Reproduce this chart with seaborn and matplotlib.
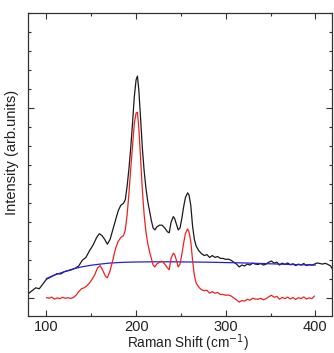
import matplotlib
matplotlib.use("Agg")
import matplotlib.pyplot as plt
import seaborn as sns
import pandas as pd
from matplotlib.ticker import MultipleLocator

# Raw spectrum (black)
raw_x = [80, 84, 88, 92, 96, 100, 104, 108, 112, 116, 120, 124, 128, 132, 136, 140, 144, 148, 152, 156,
         159, 162, 165, 168, 171, 174, 177, 180, 183, 186, 188, 190, 192, 194, 196, 198, 200, 201.5, 203,
         205, 207, 209, 211, 213, 215, 217, 219, 221, 223, 226, 229, 232, 235, 237, 239, 241.5, 243, 245,
         247, 249, 251, 253, 255, 257.5, 259, 261, 263, 265, 267, 270, 273, 276, 279, 282, 285, 288, 291,
         294, 297, 300, 303, 306, 309, 312, 315, 318, 321, 324, 327, 330, 333, 336, 339, 342, 345, 348,
         351, 354, 357, 360, 363, 366, 369, 372, 375, 378, 381, 384, 387, 390, 393, 396, 399, 402, 405,
         408, 411, 414, 417, 420]
raw_y = [0.025, 0.04, 0.055, 0.05, 0.075, 0.10, 0.11, 0.12, 0.13, 0.128, 0.14, 0.145, 0.15, 0.158, 0.17,
         0.20, 0.215, 0.25, 0.28, 0.32, 0.34, 0.33, 0.31, 0.285, 0.31, 0.36, 0.41, 0.46, 0.49, 0.50, 0.52,
         0.59, 0.68, 0.79, 0.92, 1.06, 1.15, 1.17, 1.10, 0.95, 0.79, 0.67, 0.58, 0.51, 0.46, 0.41, 0.37,
         0.36, 0.375, 0.385, 0.385, 0.37, 0.35, 0.345, 0.40, 0.43, 0.42, 0.39, 0.36, 0.37, 0.42, 0.48,
         0.53, 0.555, 0.545, 0.49, 0.38, 0.31, 0.275, 0.25, 0.235, 0.225, 0.23, 0.215, 0.225, 0.215, 0.22,
         0.21, 0.21, 0.205, 0.206, 0.20, 0.19, 0.18, 0.165, 0.175, 0.17, 0.18, 0.175, 0.185, 0.18, 0.178,
         0.183, 0.175, 0.18, 0.19, 0.196, 0.185, 0.19, 0.175, 0.185, 0.178, 0.186, 0.176, 0.182, 0.172,
         0.18, 0.175, 0.183, 0.172, 0.178, 0.174, 0.18, 0.186, 0.183, 0.18, 0.184, 0.178, 0.17, 0.145]

# Baseline (blue)
base_x = [100, 110, 120, 130, 140, 150, 160, 170, 180, 190, 200, 220, 240, 260, 280, 300, 320, 340, 360,
          380, 400]
base_y = [0.104, 0.124, 0.140, 0.155, 0.166, 0.174, 0.180, 0.185, 0.188, 0.190, 0.191, 0.192, 0.192,
          0.191, 0.190, 0.188, 0.186, 0.183, 0.180, 0.177, 0.175]

# Baseline-corrected spectrum (red)
corr_x = [100, 103, 106, 109, 112, 115, 118, 121, 124, 127, 130, 133, 136, 139, 142, 145, 148, 151, 154,
          157, 160, 163, 166, 168, 171, 174, 177, 180, 183, 186, 188, 190, 192, 194, 196, 198, 200, 201.5,
          203, 205, 207, 209, 211, 213, 215, 217, 219, 221, 223, 226, 229, 232, 235, 237, 239, 241.5, 243,
          245, 247, 249, 251, 253, 255, 257.5, 259, 261, 263, 265, 267, 270, 273, 276, 279, 282, 285, 288,
          291, 294, 297, 300, 303, 306, 309, 312, 315, 318, 321, 324, 327, 330, 333, 336, 339, 342, 345,
          348, 351, 354, 357, 360, 363, 366, 369, 372, 375, 378, 381, 384, 387, 390, 393, 396, 399]
corr_y = [0.004, 0.0, 0.006, -0.004, 0.002, -0.002, 0.005, 0.0, 0.003, -0.001, 0.004, 0.015, 0.035, 0.05,
          0.055, 0.065, 0.08, 0.10, 0.125, 0.16, 0.172, 0.145, 0.115, 0.108, 0.145, 0.20, 0.26, 0.30, 0.32,
          0.33, 0.36, 0.44, 0.55, 0.68, 0.80, 0.92, 0.975, 0.98, 0.90, 0.74, 0.57, 0.44, 0.35, 0.29, 0.245,
          0.21, 0.175, 0.165, 0.18, 0.19, 0.195, 0.18, 0.16, 0.15, 0.21, 0.237, 0.23, 0.20, 0.165, 0.18,
          0.23, 0.29, 0.34, 0.365, 0.35, 0.30, 0.20, 0.12, 0.08, 0.058, 0.045, 0.04, 0.042, 0.027, 0.035,
          0.026, 0.03, 0.02, 0.02, 0.016, 0.017, 0.012, 0.002, -0.008, -0.02, -0.012, -0.015, -0.005,
          -0.01, 0.0, -0.004, -0.005, 0.0, -0.008, -0.002, 0.008, 0.016, 0.005, 0.01, -0.005, 0.005,
          -0.002, 0.006, -0.004, 0.004, -0.006, 0.003, -0.002, 0.007, -0.004, 0.002, -0.002, 0.012]

xticks = [100, 200, 300, 400]

sns.set_style("ticks")
plt.rcParams['font.family'] = ['Liberation Sans', 'DejaVu Sans']

fig = plt.figure(figsize=(3.34, 3.53), dpi=100)
ax = fig.add_axes([0.0853, 0.105, 0.91, 0.857])

df_raw = pd.DataFrame({"x": raw_x, "y": raw_y})
df_base = pd.DataFrame({"x": base_x, "y": base_y})
df_corr = pd.DataFrame({"x": corr_x, "y": corr_y})

sns.lineplot(data=df_raw, x="x", y="y", ax=ax, color="#1a1a1a", linewidth=0.9)
sns.lineplot(data=df_base, x="x", y="y", ax=ax, color="#2020e0", linewidth=0.9)
sns.lineplot(data=df_corr, x="x", y="y", ax=ax, color="#f02020", linewidth=0.9)

ax.set_xlim(80, 419)
ax.set_ylim(-0.093, 1.5)
ax.set_xticks(xticks)
ax.set_xticklabels([str(t) for t in xticks])
ax.xaxis.set_minor_locator(MultipleLocator(50))
ax.yaxis.set_major_locator(MultipleLocator(1))
ax.yaxis.set_minor_locator(MultipleLocator(0.1))
ax.set_yticklabels([])
ax.tick_params(which="both", direction="in", top=True, right=True, colors="#333333",
               labelcolor="#222222", labelsize=10.5, pad=3)
ax.tick_params(which="major", length=4, width=0.8)
ax.tick_params(which="minor", length=2.5, width=0.8)
for s in ax.spines.values():
    s.set_linewidth(0.9)
    s.set_color("#333333")

ax.set_xlabel("Raman Shift (cm$^{-1}$)", fontsize=9.8, color="#222222")
ax.xaxis.set_label_coords(0.523, -0.056)
ax.set_ylabel("Intensity (arb.units)", fontsize=10.5, color="#222222")
ax.yaxis.set_label_coords(-0.03, 0.54)

fig.savefig("out.png", dpi=100)
